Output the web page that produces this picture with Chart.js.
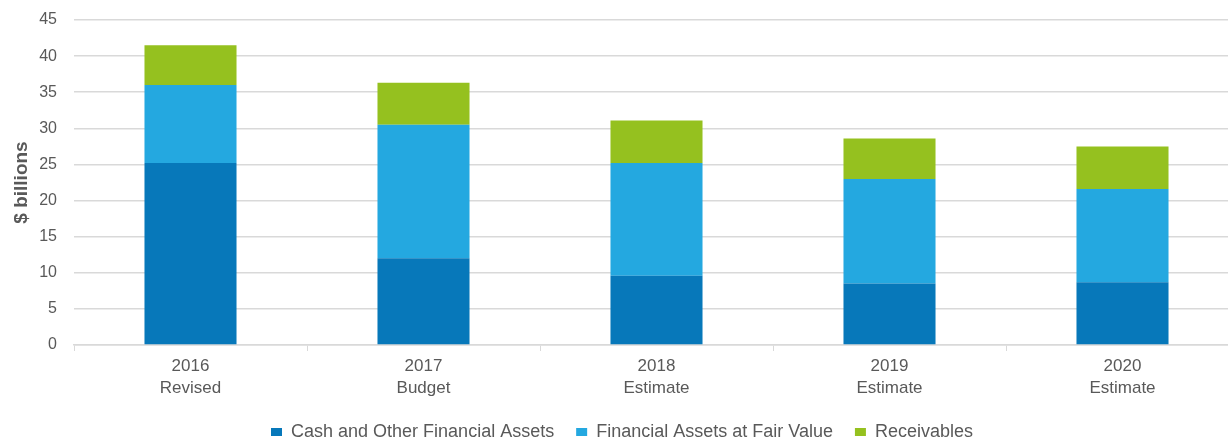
<!DOCTYPE html>
<html>
<head>
<meta charset="utf-8">
<script src="https://cdn.jsdelivr.net/npm/chart.js@4/dist/chart.umd.min.js"></script>
<style>
  html, body { margin: 0; padding: 0; overflow: hidden; background: #fff; }
  #wrap { width: 1240px; height: 443px; position: relative; }
</style>
</head>
<body>
<div id="wrap"><canvas id="c"></canvas></div>
<script>
const categories = [["2016", "Revised"], ["2017", "Budget"], ["2018", "Estimate"], ["2019", "Estimate"], ["2020", "Estimate"]];
const cashOther = [25.2, 12.0, 9.6, 8.5, 8.7];
const fairValue = [10.8, 18.5, 15.6, 14.5, 12.9];
const receivables = [5.5, 5.8, 5.9, 5.6, 5.9];
const seriesNames = ["Cash and Other Financial Assets", "Financial Assets at Fair Value", "Receivables"];
const yTitle = "$ billions";

const colors = ["#0778BA", "#24A8E0", "#95C11F"];
const tickColor = "#595959";
const gridColor = "#D9D9D9";
const font = "'Liberation Sans', Arial, sans-serif";

new Chart(document.getElementById("c"), {
  type: "bar",
  data: {
    labels: categories,
    datasets: [cashOther, fairValue, receivables].map((d, i) => ({
      label: seriesNames[i],
      data: d,
      backgroundColor: colors[i],
      borderWidth: 0,
      categoryPercentage: 1.0,
      barPercentage: 0.395
    }))
  },
  options: {
    responsive: true,
    maintainAspectRatio: false,
    animation: false,
    layout: { padding: { top: 20, right: 1, left: 5, bottom: -8 } },
    plugins: {
      tooltip: { enabled: false },
      legend: {
        position: "bottom",
        labels: {
          font: { family: font, size: 18 },
          color: tickColor,
          boxWidth: 11,
          boxHeight: 8,
          padding: 22
        }
      }
    },
    scales: {
      x: {
        stacked: true,
        afterFit: (scale) => { scale.height = 56; },
        grid: {
          drawOnChartArea: false,
          drawTicks: true,
          tickLength: 6,
          tickColor: gridColor,
          offset: true
        },
        border: { display: true, color: gridColor, width: 1.5 },
        ticks: {
          font: { family: font, size: 17, lineHeight: 1.3 },
          color: tickColor,
          padding: 4,
          maxRotation: 0
        }
      },
      y: {
        stacked: true,
        min: 0,
        max: 45,
        afterFit: (scale) => { scale.width = 69; scale.paddingTop = 0; },
        ticks: {
          stepSize: 5,
          font: { family: font, size: 16 },
          color: tickColor,
          padding: 17
        },
        grid: { color: gridColor, lineWidth: 1.5, drawTicks: false },
        border: { display: false },
        title: {
          display: true,
          text: yTitle,
          font: { family: font, size: 19, weight: "bold" },
          color: tickColor,
          padding: 5
        }
      }
    }
  }
});
</script>
</body>
</html>
